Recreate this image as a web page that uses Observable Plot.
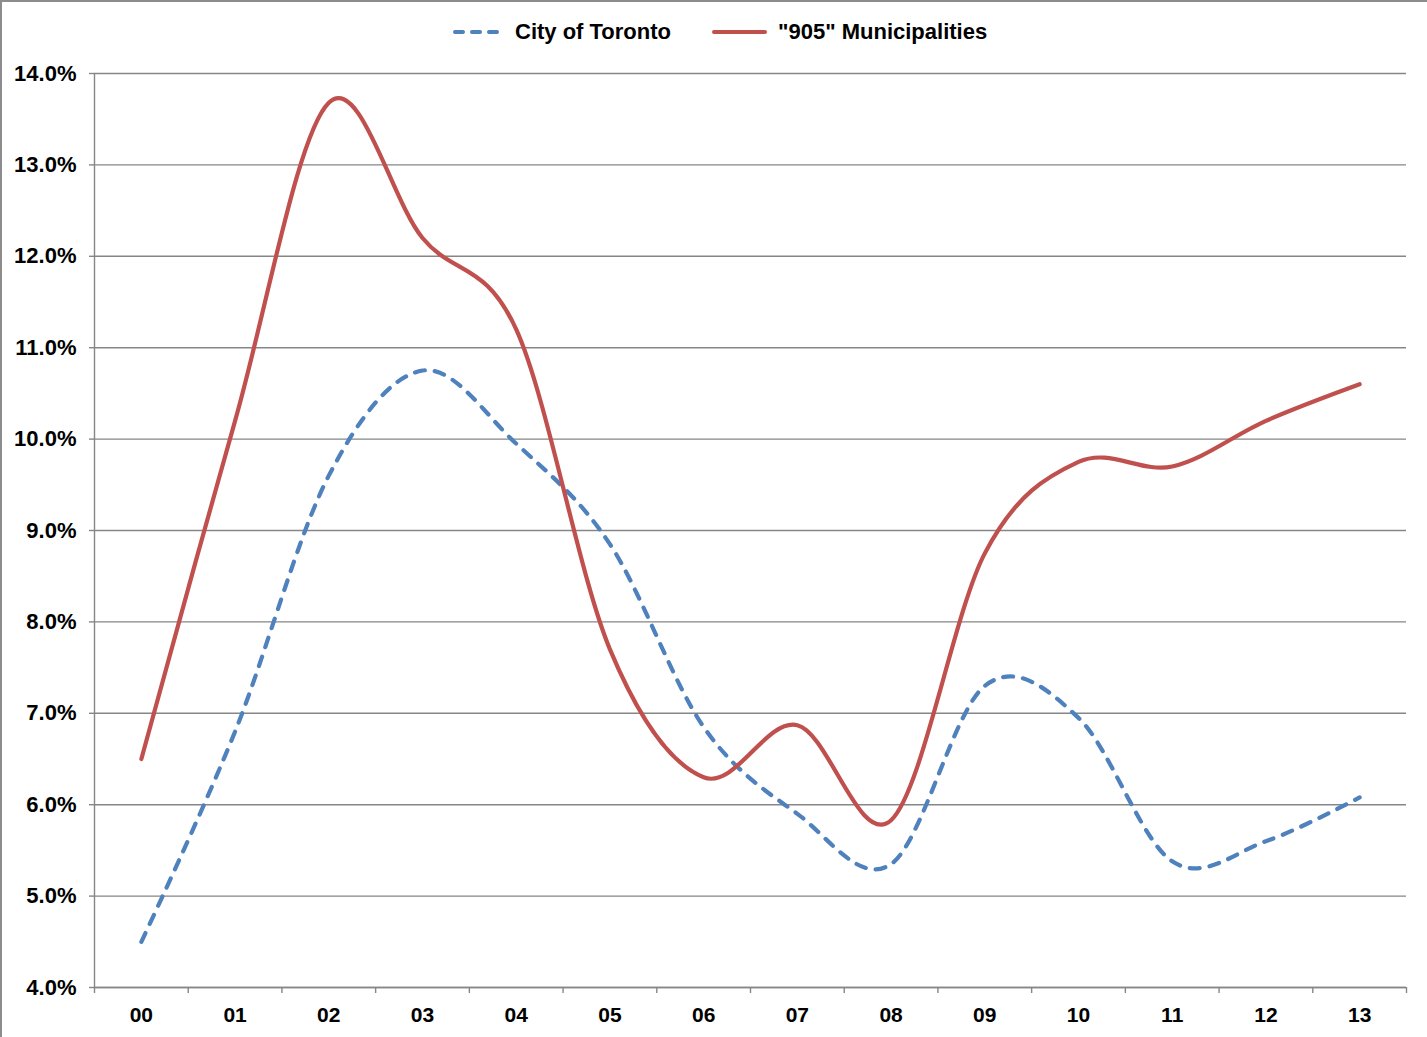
<!DOCTYPE html>
<html>
<head>
<meta charset="utf-8">
<script src="https://cdn.jsdelivr.net/npm/d3@7"></script>
<script src="https://cdn.jsdelivr.net/npm/@observablehq/plot@0.6"></script>
<style>
  html, body { margin: 0; padding: 0; background: #fff; overflow: hidden; }
  body { font-family: "Liberation Sans", Arial, sans-serif; }
  #wrap { position: relative; width: 1427px; height: 1037px; overflow: hidden; }
  #frame { position: absolute; left: 0; top: 0; width: 1460px; height: 1070px; border-left: 2px solid #8c8c8c; border-top: 2px solid #8c8c8c; pointer-events: none; }
  #legend { position: absolute; top: 0; left: 0; width: 1427px; height: 64px; }
  .item { position: absolute; top: 18px; height: 28px; display: flex; align-items: center; font-weight: bold; font-size: 22px; color: #000; white-space: nowrap; }
  .item svg { display: block; margin-right: 11px; }
  #chart { position: absolute; left: 0; top: 0; }
</style>
</head>
<body>
<div id="wrap">
  <div id="chart"></div>
  <div id="legend"></div>
  <div id="frame"></div>
</div>
<script>
// ---- data ----
const years = ["00","01","02","03","04","05","06","07","08","09","10","11","12","13"];
const toronto = [4.5, 6.8, 9.6, 10.75, 9.95, 8.85, 6.85, 5.9, 5.35, 7.3, 6.95, 5.38, 5.6, 6.08];
const gta905 = [6.5, 10.2, 13.68, 12.2, 11.2, 7.7, 6.3, 6.87, 5.83, 8.75, 9.75, 9.7, 10.2, 10.6];
const yTicks = [4, 5, 6, 7, 8, 9, 10, 11, 12, 13, 14];
const seriesNames = ["City of Toronto", "\"905\" Municipalities"];
const seriesColors = ["#4F81BD", "#C0504D"];

// ---- build ----
const idx = d3.range(years.length);
const boundaries = d3.range(-0.5, years.length, 1);
const torontoData = idx.map(i => ({i, v: toronto[i]}));
const gtaData = idx.map(i => ({i, v: gta905[i]}));
const grid = "#868686";

const chart = Plot.plot({
  width: 1427,
  height: 1037,
  marginLeft: 94,
  marginRight: 21,
  marginTop: 73,
  marginBottom: 50,
  style: { fontFamily: "'Liberation Sans', Arial, sans-serif", color: "#000", background: "transparent" },
  x: { type: "linear", domain: [-0.5, years.length - 0.5], axis: null },
  y: { domain: [4, 14], axis: null },
  marks: [
    Plot.gridY(yTicks, { stroke: grid, strokeOpacity: 1, strokeWidth: 1.4 }),
    Plot.ruleX([-0.5], { stroke: grid, strokeWidth: 1.4 }),
    Plot.ruleY([4], { stroke: grid, strokeWidth: 1.4 }),
    Plot.axisY(yTicks, {
      tickSize: 5, tickPadding: 13, stroke: grid, strokeWidth: 1.4, fill: "#000",
      tickFormat: d => d.toFixed(1) + "%", fontSize: 22, fontWeight: "bold", label: null
    }),
    Plot.axisX(boundaries, {
      tickSize: 6, stroke: grid, strokeWidth: 1.4, tickFormat: () => "", label: null
    }),
    Plot.axisX(idx, {
      tickSize: 0, tickPadding: 20, fill: "#000", tickFormat: i => years[i],
      fontSize: 21, fontWeight: "bold", label: null
    }),
    Plot.line(torontoData, {
      x: "i", y: "v", stroke: seriesColors[0], strokeWidth: 4.2, curve: "cardinal",
      strokeDasharray: "10,10", strokeLinecap: "round"
    }),
    Plot.line(gtaData, {
      x: "i", y: "v", stroke: seriesColors[1], strokeWidth: 4.2, curve: "cardinal",
      strokeLinecap: "round"
    })
  ]
});
document.getElementById("chart").appendChild(chart);

// ---- legend ----
const legend = document.getElementById("legend");
const lefts = [453, 712];
const swatchW = [51, 55];
seriesNames.forEach((name, k) => {
  const item = document.createElement("div");
  item.className = "item";
  item.style.left = lefts[k] + "px";
  const dash = k === 0 ? 'stroke-dasharray="8,9"' : "";
  item.innerHTML = `<svg width="${swatchW[k]}" height="10"><line x1="2" y1="5" x2="${swatchW[k]-2}" y2="5" stroke="${seriesColors[k]}" stroke-width="4" stroke-linecap="round" ${dash}/></svg><span>${name}</span>`;
  legend.appendChild(item);
});
</script>
</body>
</html>
